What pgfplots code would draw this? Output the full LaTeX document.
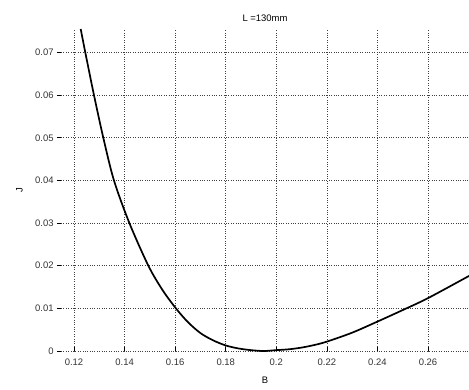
\documentclass[border=0pt]{standalone}
\usepackage{pgfplots}
\pgfplotsset{compat=1.18}
\usepackage{fontspec}
\setmainfont{Liberation Sans}
\begin{document}
\fontsize{9.5}{11}\selectfont
\begin{tikzpicture}
\begin{axis}[
  scale only axis,
  width=408bp, height=322bp,
  xmin=0.11486, xmax=0.2762,
  ymin=0, ymax=0.0755,
  xtick={0.12,0.14,0.16,0.18,0.2,0.22,0.24,0.26},
  xticklabels={0.12,0.14,0.16,0.18,0.2,0.22,0.24,0.26},
  ytick={0,0.01,0.02,0.03,0.04,0.05,0.06,0.07},
  yticklabels={0,0.01,0.02,0.03,0.04,0.05,0.06,0.07},
  scaled ticks=false,
  /pgf/number format/assume math mode=true,
  axis line style={draw=none},
  separate axis lines,
  xtick pos=bottom, ytick pos=left,
  x tick style={black, line width=0.6bp},
  y tick style={black, line width=0.6bp},
  xtick align=inside, ytick align=outside,
  major tick length=4bp,
  grid=major,
  major grid style={dotted, black!75, line width=0.6bp},
  tick label style={font=\fontsize{9.5}{11}\selectfont, text=black!80},
  xticklabel style={yshift=-5bp},
  title={L =130mm},
  title style={font=\fontsize{9.5}{11}\selectfont, yshift=-2bp},
  xlabel={B}, ylabel={J},
  label style={font=\fontsize{9.5}{11}\selectfont},
  xlabel style={yshift=-4bp},
  ylabel style={yshift=6bp},
  clip=true,
]
\coordinate (bl) at (rel axis cs:0,0);
\coordinate (tr) at (rel axis cs:1,1);
\addplot[black, line width=1.7bp, smooth] coordinates {
(0.12265,0.0755)
(0.12447,0.0700)
(0.1279,0.0600)
(0.13159,0.0500)
(0.1358,0.0400)
(0.1419,0.0300)
(0.1494,0.0200)
(0.1550,0.0143)
(0.1603,0.0100)
(0.1650,0.0068)
(0.1700,0.0042)
(0.1750,0.0025)
(0.1800,0.0013)
(0.1850,0.0006)
(0.1900,0.0002)
(0.1950,0.0000)
(0.2000,0.0002)
(0.2050,0.0004)
(0.2100,0.0008)
(0.2150,0.0014)
(0.2200,0.0022)
(0.2300,0.0043)
(0.2400,0.0069)
(0.2500,0.0096)
(0.2600,0.0124)
(0.2762,0.0176)
};
\end{axis}
\pgfresetboundingbox
\path ([shift={(-61bp,-39bp)}]bl) rectangle ([shift={(0bp,29bp)}]tr);
\end{tikzpicture}
\end{document}
